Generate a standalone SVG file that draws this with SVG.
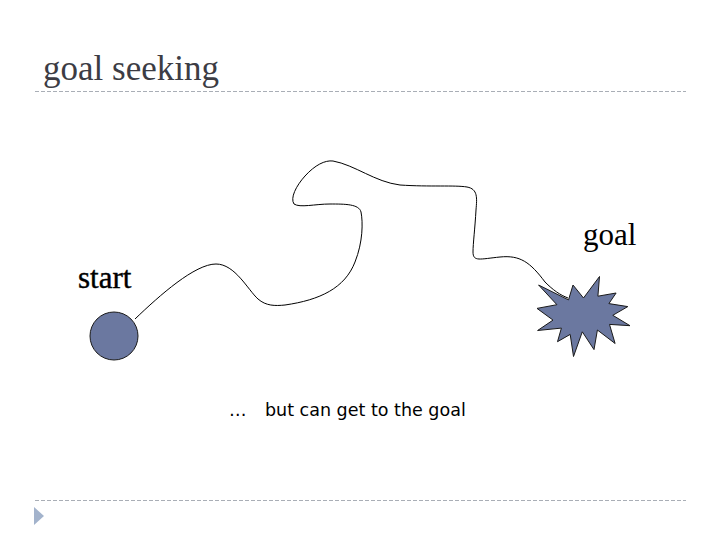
<svg xmlns="http://www.w3.org/2000/svg" width="720" height="540" viewBox="0 0 720 540">
<style>
.rule{stroke:#a9aeb6;stroke-width:1;stroke-dasharray:4,2;fill:none}
.lbl{font-family:"Liberation Serif","Times New Roman",serif;font-size:31px;fill:#000}
.shape{fill:#6b78a0;stroke:#1a1a1a;stroke-width:1}
.path{fill:none;stroke:#000;stroke-width:1}
.cap{font-family:"DejaVu Sans",Verdana,sans-serif;font-size:17.5px;fill:#000}
</style>
<rect width="720" height="540" fill="#fff"/>
<g id="title">
<text x="43" y="80" font-family="Liberation Serif, Times New Roman, serif" font-size="35" fill="#3c3c44">goal seeking</text>
<line class="rule" x1="35" y1="91.5" x2="686" y2="91.5"/>
</g>
<g id="connectors">
<path class="path" d="M135,319 C160,295 195,264 216,264 C235,264 248,290 258,299 C266,306 275,306 285,305 C320,300 345,288 355,262 C363,242 363,222 361,212 C359,204 345,204 330,204 C315,204 300,208 294,204 C290,198 296,186 305,176 C315,165 325,160 333,161 C355,165 375,182 400,185 C430,187 455,185 467,187 C478,189 477,198 476,210 C475,228 473,244 473,252 C473,262 480,259 500,257 C520,255 530,262 545,282 C553,290 560,295 568,298"/>
</g>
<g id="start">
<circle class="shape" cx="114" cy="336" r="24"/>
<text class="lbl" x="78" y="288" stroke="#000" stroke-width="0.4">start</text>
</g>
<g id="goal">
<polygon class="shape" points="583.5,298 599.5,276.5 597.9,296.2 616.1,293 608.9,303.6 627.8,306.6 612.8,315.3 630,325.7 609.5,324.4 615.1,343.5 597.4,330 594,349.6 582.3,331.8 573.5,356.5 570.2,334.4 557.5,341.7 561.4,328.1 537.6,330.5 553,320.1 537,308.4 556.9,304.7 538.6,285 568.5,299.9 573,285"/>
<text class="lbl" x="583" y="245">goal</text>
</g>
<g id="caption">
<text class="cap" x="229" y="416">…</text>
<text class="cap" x="265" y="416">but can get to the goal</text>
</g>
<g id="footer">
<line class="rule" x1="35" y1="500.5" x2="686" y2="500.5"/>
<polygon points="34,507 44,516 34,525" fill="#a3b3cc"/>
</g>
</svg>
